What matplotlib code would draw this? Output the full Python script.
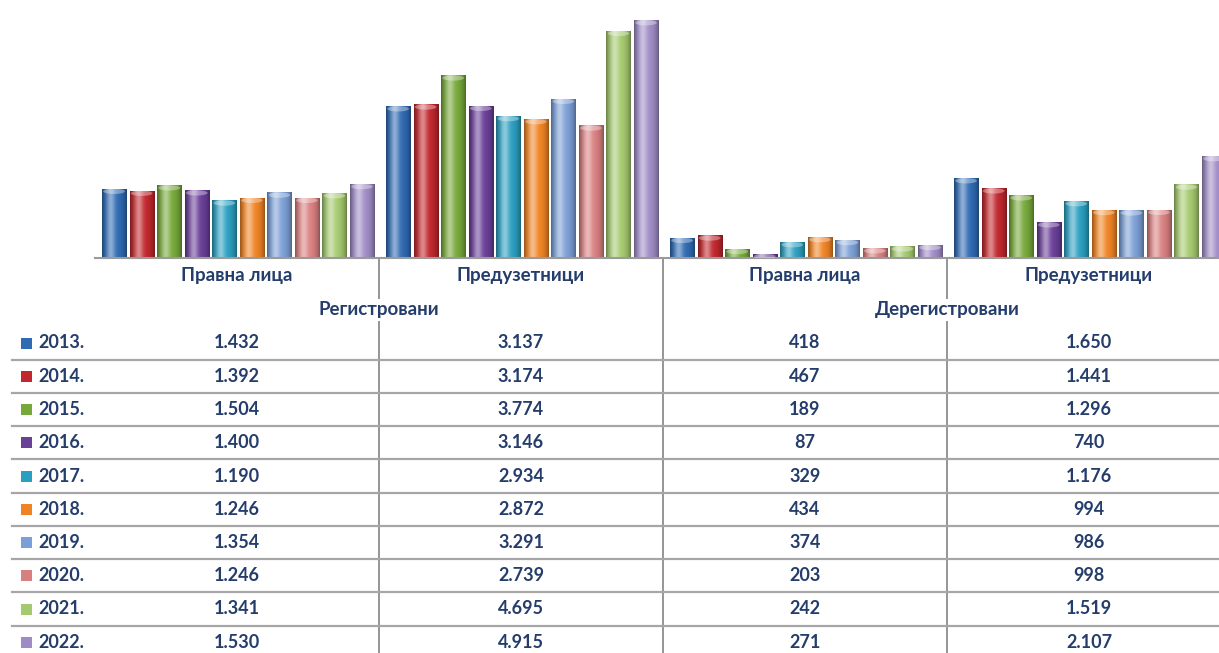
import numpy as np
import matplotlib.pyplot as plt
from matplotlib.patches import Rectangle, Ellipse
from matplotlib.colors import to_rgb

plt.rcParams['font.family'] = ['Lato', 'DejaVu Sans']

years = ['2013.', '2014.', '2015.', '2016.', '2017.', '2018.', '2019.', '2020.', '2021.', '2022.']
categories = ['Правна лица', 'Предузетници', 'Правна лица', 'Предузетници']
groups = ['Регистровани', 'Дерегистровани']

reg_pravna = [1432, 1392, 1504, 1400, 1190, 1246, 1354, 1246, 1341, 1530]
reg_preduz = [3137, 3174, 3774, 3146, 2934, 2872, 3291, 2739, 4695, 4915]
dereg_pravna = [418, 467, 189, 87, 329, 434, 374, 203, 242, 271]
dereg_preduz = [1650, 1441, 1296, 740, 1176, 994, 986, 998, 1519, 2107]

colors = ['#2f6ab3', '#c1272d', '#76a83a', '#6a3f98', '#2b9fc0',
          '#f08424', '#7b9fd6', '#d97f80', '#a5c96e', '#9f8cc6']

series = np.array([reg_pravna, reg_preduz, dereg_pravna, dereg_preduz]).T  # rows = years

W, H = 1219, 653
fig = plt.figure(figsize=(W / 100, H / 100), dpi=100)

# pixel layout
x0 = 95          # left edge of plot area
gw = 284         # width of one category
base = 258       # baseline y (px from top)
ymax = 5330

ax = fig.add_axes([x0 / W, (H - base) / H, 4 * gw / W, base / H])
ax.set_xlim(-0.5, 3.5)
ax.set_ylim(0, ymax)

pitch = 0.097
bw = 0.085
cat_x = np.arange(4)
first = -0.5 + 7 / gw + bw / 2

def shade_img(c):
    c = np.array(to_rgb(c))
    t = np.linspace(0, 1, 40)
    hi = 0.45 * np.exp(-((t - 0.35) / 0.18) ** 2)
    dk = 0.35 * (np.abs(t - 0.5) * 2) ** 3
    col = c[None, :] * (1 - dk[:, None])
    col = col * (1 - hi[:, None]) + hi[:, None]
    return col[None, :, :]

for i, yr in enumerate(years):
    xs = cat_x + first + i * pitch
    bars = ax.bar(xs, series[i], width=bw, color=colors[i], linewidth=0)
    for b in bars:
        bx, bh = b.get_x(), b.get_height()
        im = ax.imshow(shade_img(colors[i]), extent=[bx, bx + bw, 0, bh],
                       aspect='auto', zorder=2)
        im.set_clip_path(b)
        cap_h = 110
        cap = Ellipse((bx + bw / 2, bh - cap_h / 2), bw * 0.9, cap_h,
                      color='white', alpha=0.35, lw=0, zorder=3)
        ax.add_patch(cap)

ax.set_xlim(-0.5, 3.5)
ax.set_ylim(0, ymax)
for s in ['top', 'left', 'right']:
    ax.spines[s].set_visible(False)
ax.spines['bottom'].set_color('#9a9a9a')
ax.spines['bottom'].set_linewidth(1.5)
ax.set_xticks([])
ax.set_yticks([])
ax.patch.set_alpha(0)

# table drawn in pixel space
tx = fig.add_axes([0, 0, 1, 1], zorder=-1)
tx.set_xlim(0, W)
tx.set_ylim(H, 0)
tx.axis('off')

txt_color = '#243d6b'
centers = [x0 + (k + 0.5) * gw for k in range(4)]
row_y = [343 + 33.25 * r for r in range(len(years))]

for k in range(1, 4):
    tx.plot([x0 + k * gw] * 2, [base, H], color='#8c8c8c', lw=1.3)
for r in range(len(years)):
    yl = row_y[r] + 16.5
    tx.plot([12, W], [yl, yl], color='#a6a6a6', lw=1.6)

for k, name in enumerate(categories):
    tx.text(centers[k], 275, name, ha='center', va='center', fontsize=13.5,
            fontweight='bold', color=txt_color)
for g, name in enumerate(groups):
    tx.text(x0 + (2 * g + 1) * gw, 310, name, ha='center', va='center',
            fontsize=13.5, fontweight='bold', color=txt_color,
            bbox=dict(facecolor='white', edgecolor='none', pad=2), zorder=5)

for r, yr in enumerate(years):
    tx.add_patch(Rectangle((21, row_y[r] - 5.5), 11, 11, color=colors[r], lw=0))
    tx.text(38, row_y[r], yr, ha='left', va='center', fontsize=13,
            fontweight='bold', color=txt_color)
    for k in range(4):
        v = series[r][k]
        label = f'{v:,}'.replace(',', '.')
        tx.text(centers[k], row_y[r], label, ha='center', va='center',
                fontsize=13, fontweight='bold', color=txt_color)

fig.savefig('out.png', dpi=100)
